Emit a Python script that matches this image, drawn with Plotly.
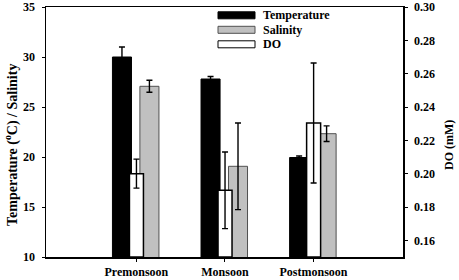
import plotly.graph_objects as go

seasons = ["Premonsoon", "Monsoon", "Postmonsoon"]
temperature = [30.0, 27.8, 19.95]
temperature_err = [1.0, 0.25, 0.15]
salinity = [27.07, 19.07, 22.33]
salinity_err = [0.6, 4.33, 0.78]
do_mM = [0.200, 0.190, 0.2304]
do_err = [0.0087, 0.023, 0.036]
do_floor = 0.15

xpos = list(range(len(seasons)))

FONT = "Liberation Serif"

# plot area in pixels
W, H = 459, 280
L, R, T, B = 46, 56, 7, 23
pw, ph = W - L - R, H - T - B


def px_x(x):
    return (x - L) / pw


def px_y(y):
    return (H - B - y) / ph


err_style = dict(type="data", color="black", thickness=1.4, width=3)

fig = go.Figure()
fig.add_trace(go.Bar(
    x=xpos, y=temperature, name="Temperature",
    offset=-0.27, width=0.215,
    marker=dict(color="black", line=dict(color="black", width=1)),
    error_y=dict(array=temperature_err, **err_style),
    yaxis="y", showlegend=False,
))
fig.add_trace(go.Bar(
    x=xpos, y=salinity, name="Salinity",
    offset=0.04, width=0.215,
    marker=dict(color="#c0c0c0", line=dict(color="#505050", width=1)),
    error_y=dict(array=salinity_err, **err_style),
    yaxis="y", showlegend=False,
))
fig.add_trace(go.Bar(
    x=xpos, y=[v - do_floor for v in do_mM], base=do_floor, name="DO",
    offset=-0.078, width=0.158,
    marker=dict(color="white", line=dict(color="black", width=1.5)),
    error_y=dict(array=do_err, **err_style),
    yaxis="y2", showlegend=False,
))

tickfont = dict(family=FONT, size=12, weight="bold", color="black")

fig.update_layout(
    width=W, height=H,
    margin=dict(l=L, r=R, t=T, b=B, pad=0, autoexpand=False),
    paper_bgcolor="white", plot_bgcolor="white",
    barmode="overlay",
    font=dict(family=FONT, size=12, color="black"),
    xaxis=dict(
        range=[-1.02, 3.01], tickmode="array", tickvals=xpos, ticktext=seasons,
        showline=True, linecolor="black", linewidth=1.5, mirror=True,
        ticks="outside", ticklen=3, tickwidth=1, tickcolor="black",
        showgrid=False, zeroline=False, automargin=False,
        tickfont=tickfont, ticklabelstandoff=0,
    ),
    yaxis=dict(
        range=[10, 35], tickvals=[10, 15, 20, 25, 30, 35],
        showline=True, linecolor="black", linewidth=1.5,
        ticks="outside", ticklen=3, tickwidth=1, tickcolor="black",
        showgrid=False, zeroline=False, automargin=False,
        tickfont=tickfont, ticklabelstandoff=4,
    ),
    yaxis2=dict(
        range=[do_floor, 0.30], tickvals=[0.16, 0.18, 0.20, 0.22, 0.24, 0.26, 0.28, 0.30],
        tickformat=".2f",
        overlaying="y", side="right",
        showline=True, linecolor="black", linewidth=1.5,
        ticks="outside", ticklen=3, tickwidth=1, tickcolor="black",
        showgrid=False, zeroline=False, automargin=False,
        tickfont=tickfont, ticklabelstandoff=4,
    ),
)

# axis titles as rotated annotations
fig.add_annotation(xref="paper", yref="paper", x=px_x(11), y=px_y(145),
                   text="Temperature (<sup>o</sup>C) / Salinity", textangle=-90,
                   showarrow=False, xanchor="center", yanchor="middle",
                   font=dict(family=FONT, size=14, weight="bold", color="black"))
fig.add_annotation(xref="paper", yref="paper", x=px_x(449), y=px_y(145),
                   text="DO (mM)", textangle=-90,
                   showarrow=False, xanchor="center", yanchor="middle",
                   font=dict(family=FONT, size=12, weight="bold", color="black"))

# manual legend with wide swatches
legend_items = [("Temperature", "black", "black"),
                ("Salinity", "#c0c0c0", "#505050"),
                ("DO", "white", "black")]
for i, (label, fill, edge) in enumerate(legend_items):
    yc = 15.3 + i * 14.5
    fig.add_shape(type="rect", xref="paper", yref="paper",
                  x0=px_x(218), x1=px_x(255), y0=px_y(yc + 3.5), y1=px_y(yc - 3.5),
                  fillcolor=fill, line=dict(color=edge, width=1))
    fig.add_annotation(xref="paper", yref="paper", x=px_x(261), y=px_y(yc),
                       text=label, showarrow=False, xanchor="left", yanchor="middle",
                       font=dict(family=FONT, size=12, weight="bold", color="black"))

fig.write_html(
    "out.html",
    config={"displayModeBar": False, "staticPlot": True},
    post_script="document.body.style.margin='0';document.body.style.overflow='hidden';",
)
